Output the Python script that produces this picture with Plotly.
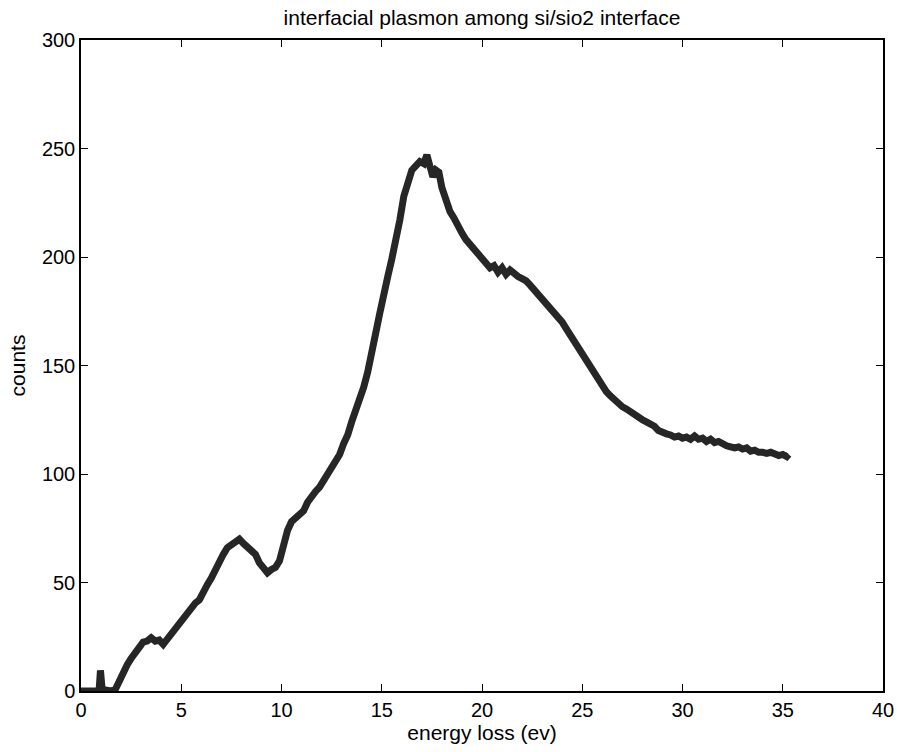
import plotly.graph_objects as go

energy = [0.0, 0.5, 0.9, 0.97, 1.05, 1.2, 1.5, 1.7,
          1.9, 2.1, 2.3, 2.5, 2.7, 2.9, 3.1, 3.3, 3.5, 3.7, 3.9, 4.1, 4.3, 4.5, 4.7, 4.9,
          5.1, 5.3, 5.5, 5.7, 5.9, 6.1, 6.3, 6.5, 6.7, 6.9, 7.1, 7.3, 7.5, 7.7, 7.9,
          8.1, 8.3, 8.5, 8.7, 8.9, 9.1, 9.3, 9.5, 9.7, 9.9, 10.1, 10.3, 10.5, 10.7, 10.9,
          11.1, 11.3, 11.5, 11.7, 11.9, 12.1, 12.3, 12.5, 12.7, 12.9, 13.1, 13.3, 13.5,
          13.7, 13.9, 14.1, 14.3, 14.5, 14.7, 14.9, 15.1, 15.3, 15.5, 15.7, 15.9, 16.1,
          16.3, 16.5, 16.7, 16.9, 17.1, 17.25, 17.4, 17.55, 17.7, 17.85, 18.0, 18.2,
          18.4, 18.6, 18.8, 19.0, 19.2, 19.4, 19.6, 19.8, 20.0, 20.2, 20.4, 20.6, 20.8,
          21.0, 21.2, 21.4, 21.6, 21.8, 22.0, 22.2, 22.4, 22.6, 22.8, 23.0, 23.2, 23.4,
          23.6, 23.8, 24.0, 24.2, 24.4, 24.6, 24.8, 25.0, 25.2, 25.4, 25.6, 25.8, 26.0,
          26.2, 26.4, 26.6, 26.8, 27.0, 27.2, 27.4, 27.6, 27.8, 28.0, 28.2, 28.4, 28.6,
          28.8, 29.0, 29.2, 29.4, 29.6, 29.8, 30.0, 30.2, 30.4, 30.6, 30.8, 31.0, 31.2,
          31.4, 31.6, 31.8, 32.0, 32.2, 32.4, 32.6, 32.8, 33.0, 33.2, 33.4, 33.6, 33.8,
          34.0, 34.2, 34.4, 34.6, 34.8, 35.0, 35.2, 35.3]

counts = [0, 0, 0, 9.5, 1, 0.5, 0, 0.5,
          5, 8, 12, 15, 18, 21, 22.5, 23, 24.5, 23, 23.5, 21.5, 24, 26, 28.5, 31,
          33, 35.5, 38, 40.5, 42, 46, 49, 52, 56, 60, 63, 66, 67.5, 68, 70,
          68, 66, 64, 63, 59, 57, 54.5, 56, 57, 60, 68, 74, 78, 80, 81,
          83, 87, 90, 92, 94, 97, 100, 103, 106, 109, 114, 118, 124,
          129, 135, 140, 147, 158, 165, 174, 184, 191, 199, 207, 217, 228,
          235, 240, 242, 244, 243, 247, 242, 237, 240, 239, 232, 225,
          221, 218, 214, 211, 208, 206, 203, 201, 199, 197, 195, 196, 193,
          195, 192, 194, 192, 191, 190, 189, 187, 185, 183, 180, 178, 177,
          174, 172, 170, 167, 164, 161, 158, 156, 153, 150, 146, 143, 140,
          138, 136, 134, 133, 131, 130, 128.5, 127, 126, 125, 124, 123, 122,
          120, 119, 118.5, 118, 117, 117.5, 116.5, 117, 116, 117.5, 116, 116.5, 115,
          116, 114.5, 115, 113.5, 113, 112.5, 112, 112.5, 111.5, 112, 110.5, 111, 110,
          110, 109.5, 110, 109, 108.5, 109, 108, 109]

x_ticks = [0, 5, 10, 15, 20, 25, 30, 35, 40]
y_ticks = [0, 50, 100, 150, 200, 250, 300]

FONT = "Liberation Sans, Arial, sans-serif"

fig = go.Figure()
fig.add_trace(go.Scatter(
    x=energy, y=counts, mode="lines",
    line=dict(color="#262626", width=7),
    showlegend=False, hoverinfo="skip",
))

axis_common = dict(
    showgrid=False, zeroline=False, automargin=False,
    showline=True, linecolor="black", linewidth=1.5, mirror="ticks",
    ticks="inside", ticklen=7, tickwidth=1.2, tickcolor="black",
    tickfont=dict(family=FONT, size=20, color="black"),
)

fig.update_layout(
    width=897, height=752,
    margin=dict(l=81, r=14, t=40, b=61),
    paper_bgcolor="white", plot_bgcolor="white",
    font=dict(family=FONT, color="black"),
    title=dict(text="interfacial plasmon among si/sio2 interface",
               x=482 / 897, xanchor="center", xref="container",
               y=1 - 18 / 752, yanchor="middle", yref="container",
               font=dict(family=FONT, size=21, color="black")),
    xaxis=dict(range=[0, 40], tickvals=x_ticks, ticktext=[str(v) for v in x_ticks],
               title=dict(text="energy loss (ev)", font=dict(family=FONT, size=21),
                          standoff=0),
               **axis_common),
    yaxis=dict(range=[0, 300], tickvals=y_ticks, ticktext=[str(v) for v in y_ticks],
               title=dict(text="counts", font=dict(family=FONT, size=21),
                          standoff=11),
               **axis_common),
)

fig.write_html("out.html")
